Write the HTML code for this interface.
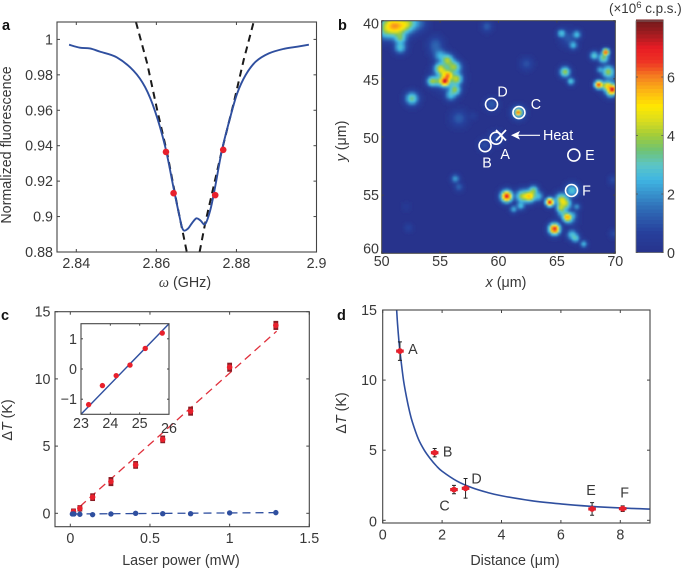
<!DOCTYPE html>
<html lang="en">
<head>
<meta charset="utf-8">
<title>Temperature mapping figure</title>
<style>
html,body{margin:0;padding:0;background:#fff;width:685px;height:568px;overflow:hidden}
svg{position:absolute;left:0;top:0;display:block}
text{font-family:"Liberation Sans",sans-serif;font-size:14.3px;fill:#383838}
.panel{font-weight:bold;font-size:14.500px;fill:#111}
.i{font-style:italic}
.w{fill:#fff}
</style>
</head>
<body>
<svg id="fig" width="685" height="568" viewBox="0 0 685 568" xmlns="http://www.w3.org/2000/svg">
  <defs>
    <filter id="soft" x="0" y="0" width="100%" height="100%"><feGaussianBlur stdDeviation="0.8"/></filter>
    <clipPath id="clip-a"><rect x="57" y="22" width="260" height="230"/></clipPath>
    <clipPath id="clip-b"><rect x="382" y="21" width="233.500" height="232.500"/></clipPath>
    <clipPath id="clip-d"><rect x="382.700" y="310" width="267.300" height="213"/></clipPath>
  </defs>
  <text class="panel" x="2" y="30">a</text>
  <text class="panel" x="338" y="30">b</text>
  <text class="panel" x="1" y="320">c</text>
  <text class="panel" x="337" y="320">d</text>

  <text transform="translate(11,145) rotate(-90)" text-anchor="middle">Normalized fluorescence</text>
  <text x="185" y="287" text-anchor="middle"><tspan class="i" style="font-family:'Liberation Serif',serif">ω</tspan> (GHz)</text>

  <text transform="translate(346,141) rotate(-90)" text-anchor="middle"><tspan class="i">y</tspan> (μm)</text>
  <text x="506" y="287" text-anchor="middle"><tspan class="i">x</tspan> (μm)</text>
  <text x="609" y="13" style="font-size:13.4px">(×10<tspan dy="-5" font-size="9.500">6</tspan><tspan dy="5"> c.p.s.)</tspan></text>

  <text transform="translate(12,420) rotate(-90)" text-anchor="middle">Δ<tspan class="i">T</tspan> (K)</text>
  <text x="181" y="565" text-anchor="middle">Laser power (mW)</text>

  <text transform="translate(346,413) rotate(-90)" text-anchor="middle">Δ<tspan class="i">T</tspan> (K)</text>
  <text x="515" y="565" text-anchor="middle">Distance (μm)</text>

  <text x="87" y="344">Δ<tspan class="i">T</tspan> (K)</text>
  <text x="122" y="404"><tspan class="i">T</tspan> (ºC)</text>

  <g id="layer-b"></g>
  <g id="layer-a"></g>
  <g id="layer-c"></g>
  <g id="layer-d"></g>
</svg>
<script>
/* ---------- Panel a data ---------- */
var spectrumX = [2.8382,2.8409,2.8434,2.8459,2.8501,2.8543,2.8572,2.8597,2.8622,2.8643,2.8656,2.8666,2.8678,2.8689,2.87,2.871,2.8722,2.8735,2.8747,2.8764,2.8785,2.8802,2.8823,2.8848,2.8881,2.8919,2.8952,2.8981];
var spectrumY = [0.997,0.9953,0.9949,0.9931,0.9899,0.9823,0.973,0.9593,0.9395,0.9161,0.902,0.8928,0.893,0.8963,0.899,0.8978,0.8958,0.9039,0.917,0.9377,0.9564,0.9696,0.9799,0.9874,0.9921,0.9947,0.9959,0.997];
var fitLeftX = [2.8549,2.8577,2.8602,2.8627,2.8651,2.8668,2.8676];
var fitLeftY = [1.0098,0.9865,0.9602,0.9358,0.9076,0.8889,0.88];
var fitRightX = [2.8708,2.8722,2.8743,2.8764,2.8793,2.8818,2.8843];
var fitRightY = [0.88,0.8963,0.917,0.9377,0.9639,0.9883,1.0098];
var probeX = [2.8624,2.8643,2.8747,2.8767];
var probeY = [0.9365,0.9132,0.9121,0.9377];
var aXTicks = [2.84,2.86,2.88,2.9];
var aYTicks = [0.88,0.9,0.92,0.94,0.96,0.98,1];

/* ---------- Panel b data: fluorescent spots ---------- */
var spotX = [50.7,51.4,52.3,51.6,51.6,50.3,53.1,54.6,54.6,55.4,55.7,55,55.6,56.3,56.4,54.3,56.3,55.9,55,54.8,55.3,56,52.6,56.6,57.8,59,62.4,65.4,66.7,66.4,66,69.2,69,68.2,65.7,66.2,68.7,69.4,68.6,69.3,69.8,69.6,69.8,61.7,61.7,59.4,59.8,58.8,56.3,56.6,52.1,52.3,69.8,69.9,66.3,60.7,62,62.7,63,63.4,61.3,61.9,64.4,65.4,65.8,65.3,65.9,65.5,66.7,66.4,64.8,66.3,66.6,67.3,55.6,51.1,51.9,62.4,65.6,66.1,69.5,56.2];
var spotY = [40.4,40.5,40.2,41.5,42.3,40.9,40.2,42,42.5,45.2,44.7,44.1,43.4,44,45,45.2,46,46.4,43,45.2,44.5,43.9,46.7,48.4,48.2,40.5,43.7,41.1,41.2,42.1,41.5,42.7,43.2,43,44.4,45.2,44.2,44.4,45.5,45.6,45.9,46.2,45,47.9,47.9,47.2,50.1,50.7,53.6,54.3,56,57.8,53.7,58.3,54.6,55.1,55.1,55.1,54.6,55.1,56.2,55.9,55.6,55.4,55.7,56.1,56.9,56.5,56,56.7,57.9,58.4,58.7,59.2,44.8,40.5,40.4,55.1,55.9,57,45.8,45.8];
var spotPeak = [4.1,3.8,3.4,3.3,2.8,2.4,1.5,1.2,1,6.8,5,4.2,4,3,4,3.8,3,2.6,2.4,3,3.2,2.8,3.4,1.2,0.5,1.2,1,2.8,2.6,2.5,1.1,6.6,3.6,3,4,2.8,2.2,3.9,6.6,4.6,6.6,3.4,1.4,5.8,3.4,1.2,1,0.9,2.1,1.3,0.35,0.7,0.9,0.9,2.9,7,3.6,4.8,3.6,2.6,2.3,2.6,7,4.4,3.2,3.6,5.4,2.6,2,1.7,7,2.7,2.9,2.5,3,3,2.8,3,2.6,2.2,2.5,2.5];
var spotWidth = [0.55,0.5,0.45,0.3,0.28,0.38,0.4,0.36,0.34,0.24,0.22,0.28,0.3,0.3,0.28,0.24,0.26,0.26,0.3,0.26,0.26,0.32,0.3,0.38,0.2,0.25,0.3,0.2,0.2,0.2,0.38,0.16,0.25,0.2,0.24,0.18,0.17,0.3,0.2,0.24,0.24,0.22,0.22,0.14,0.28,0.3,0.34,0.3,0.2,0.2,0.22,0.2,0.22,0.22,0.3,0.27,0.3,0.27,0.22,0.24,0.18,0.2,0.2,0.3,0.26,0.2,0.22,0.26,0.17,0.2,0.26,0.24,0.2,0.17,0.55,0.45,0.4,0.32,0.32,0.3,0.33,0.3];
var markerNames = ["A","B","C","D","E","F"];
var markerX = [59.8,58.85,61.75,59.4,66.45,66.25];
var markerY = [50.1,50.75,47.9,47.2,51.55,54.6];
var colorStops = [0,0.7,1.5,2.5,3,3.5,4,4.5,5,5.5,6,6.5,7,7.5,8];
var colorHex = ["#27338c","#27409c","#2f6cb6","#3fb6e2","#5cc5c6","#6fc374","#a0cc3a","#d8dc20","#ffe800","#fdb913","#f58220","#ee3524","#e81c24","#a01c20","#6b1a1a"];
var cbTicks = [0,2,4,6];
var bXTicks = [50,55,60,65,70];
var bYTicks = [40,45,50,55,60];

/* ---------- Panel c data ---------- */
var powerRed = [0.02,0.06,0.14,0.255,0.41,0.58,0.755,1,1.29];
var deltaRed = [0.12,0.37,1.2,2.36,3.6,5.5,7.6,10.87,13.98];
var errRed = [0.2,0.2,0.25,0.3,0.25,0.25,0.3,0.3,0.3];
var powerBlue = [0.013,0.023,0.06,0.14,0.255,0.41,0.58,0.755,1,1.29];
var deltaBlue = [-0.05,-0.05,-0.07,-0.1,-0.05,0,-0.03,-0.03,0.03,0.05];
var redFitX = [0.06,1.295];
var redFitY = [0.5,13.55];
var blueFitX = [0.02,1.29];
var blueFitY = [-0.05,0.05];
var cXTicks = [0,0.5,1,1.5];
var cXLabels = ["0","0.5","1","1.5"];
var cYTicks = [0,5,10,15];
var insetT = [23.26,23.73,24.2,24.67,25.19,25.77];
var insetDelta = [-1.18,-0.55,-0.22,0.13,0.68,1.19];
var insetFitX = [23,26];
var insetFitY = [-1.5,1.5];
var insetXTicks = [23,24,25,26];
var insetYTicks = [-1,0,1];

/* ---------- Panel d data ---------- */
var siteNames = ["A","B","C","D","E","F"];
var siteDist = [0.58,1.75,2.4,2.79,7.05,8.08];
var siteDelta = [12.07,4.82,2.19,2.28,0.81,0.83];
var siteErr = [0.66,0.3,0.3,0.7,0.45,0.2];
var curveX = [0.47,0.5,0.55,0.6,0.7,0.8,0.9,1,1.2,1.4,1.6,1.8,2,2.5,3,3.5,4,5,6,7,8,9];
var curveY = [15,14,12.7,11.7,10,8.8,7.8,7,5.8,5,4.4,3.9,3.5,2.8,2.33,2,1.75,1.4,1.17,1,0.88,0.8];
var dXTicks = [0,2,4,6,8];
var dYTicks = [0,5,10,15];

/* ---------- Helpers ---------- */
var NS = "http://www.w3.org/2000/svg";
function svgEl(tag, parent, props) {
  var el = document.createElementNS(NS, tag);
  for (var k in props) el.setAttribute(k, props[k]);
  parent.appendChild(el);
  return el;
}
function linear(d0, d1, p0, p1) {
  return function (v) { return p0 + (v - d0) * (p1 - p0) / (d1 - d0); };
}
function pathOf(xs, ys, sx, sy) {
  var pts = [];
  for (var i = 0; i < xs.length; i++) pts.push(sx(xs[i]).toFixed(2) + "," + sy(ys[i]).toFixed(2));
  return pts.join(" ");
}
function smoothPath(xs, ys, sx, sy) {
  var P = [];
  for (var i = 0; i < xs.length; i++) P.push([sx(xs[i]), sy(ys[i])]);
  var d = "M" + P[0][0].toFixed(2) + " " + P[0][1].toFixed(2);
  for (var j = 0; j < P.length - 1; j++) {
    var p0 = P[Math.max(j - 1, 0)], p1 = P[j], p2 = P[j + 1], p3 = P[Math.min(j + 2, P.length - 1)];
    d += "C" + (p1[0] + (p2[0] - p0[0]) / 6).toFixed(2) + " " + (p1[1] + (p2[1] - p0[1]) / 6).toFixed(2) + " " +
         (p2[0] - (p3[0] - p1[0]) / 6).toFixed(2) + " " + (p2[1] - (p3[1] - p1[1]) / 6).toFixed(2) + " " +
         p2[0].toFixed(2) + " " + p2[1].toFixed(2);
  }
  return d;
}
function frame(g, prefix, x0, y0, x1, y1, sw) {
  var el = svgEl("rect", g, {x: x0, y: y0, width: x1 - x0, height: y1 - y0, fill: "none", stroke: "#444", "stroke-width": sw});
  
  
}
function xAxis(g, prefix, ticks, labels, sx, y0, y1, baseline, len, labelY) {
  ticks.forEach(function (t, i) {
    var px = sx(t);
    var a = svgEl("line", g, {x1: px, x2: px, y1: y1, y2: y1 - len, stroke: "#444", "stroke-width": 1});
    
    
    var b = svgEl("line", g, {x1: px, x2: px, y1: y0, y2: y0 + len, stroke: "#444", "stroke-width": 1});
    
    
    var tx = svgEl("text", g, {x: px, y: labelY ? labelY[i] : baseline, "text-anchor": "middle"});
    tx.textContent = labels[i];
    
    
  });
}
function yAxis(g, prefix, ticks, labels, sy, x0, x1, right, len, nudge) {
  ticks.forEach(function (t, i) {
    var py = sy(t);
    var a = svgEl("line", g, {x1: x0, x2: x0 + len, y1: py, y2: py, stroke: "#444", "stroke-width": 1});
    
    
    var b = svgEl("line", g, {x1: x1, x2: x1 - len, y1: py, y2: py, stroke: "#444", "stroke-width": 1});
    
    
    var tx = svgEl("text", g, {x: right, y: py + 5 + (nudge ? nudge[i] : 0), "text-anchor": "end"});
    tx.textContent = labels[i];
    
    
  });
}
function jet(v) {
  if (v <= colorStops[0]) return colorHex[0];
  for (var i = 1; i < colorStops.length; i++) {
    if (v <= colorStops[i]) {
      var f = (v - colorStops[i - 1]) / (colorStops[i] - colorStops[i - 1]);
      var a = parseInt(colorHex[i - 1].slice(1), 16), b = parseInt(colorHex[i].slice(1), 16);
      var r = Math.round((a >> 16) + ((b >> 16) - (a >> 16)) * f);
      var g = Math.round(((a >> 8) & 255) + (((b >> 8) & 255) - ((a >> 8) & 255)) * f);
      var c = Math.round((a & 255) + ((b & 255) - (a & 255)) * f);
      return "rgb(" + r + "," + g + "," + c + ")";
    }
  }
  return colorHex[colorHex.length - 1];
}

/* ---------- Panel a ---------- */
(function () {
  var g = document.getElementById("layer-a");
  var sx = linear(2.84, 2.9, 76.3, 316.5);
  var sy = linear(1, 0.88, 39.4, 252);
  var clip = svgEl("g", g, {"clip-path": "url(#clip-a)"});
  var fitL = svgEl("polyline", clip, {points: pathOf(fitLeftX, fitLeftY, sx, sy), fill: "none", stroke: "#1a1a1a", "stroke-width": 2, "stroke-dasharray": "7 5"});
  
  
  var fitR = svgEl("polyline", clip, {points: pathOf(fitRightX, fitRightY, sx, sy), fill: "none", stroke: "#1a1a1a", "stroke-width": 2, "stroke-dasharray": "7 5"});
  
  
  var line = svgEl("path", clip, {d: smoothPath(spectrumX, spectrumY, sx, sy), fill: "none", stroke: "#2f4f9f", "stroke-width": 1.9, "stroke-linejoin": "round"});
  
  
  probeX.forEach(function (x, i) {
    var p = svgEl("circle", g, {cx: sx(x), cy: sy(probeY[i]), r: 3.3, fill: "#e8202c"});
    
    
  });
  frame(g, "a", 57, 22, 316.5, 252, 1.1);
  xAxis(g, "a", aXTicks, ["2.84", "2.86", "2.88", "2.9"], sx, 22, 252, 268, 3);
  yAxis(g, "a", aYTicks, ["0.88", "0.9", "0.92", "0.94", "0.96", "0.98", "1"], sy, 57, 316.5, 53, 3);
})();

/* ---------- Panel b ---------- */
(function () {
  var g = document.getElementById("layer-b");
  var sx = linear(50, 70, 381.7, 615.3);
  var sy = linear(40, 60, 20.7, 253.3);
  var bg = svgEl("rect", g, {x: 381.7, y: 20.7, width: 233.6, height: 232.6, fill: colorHex[0]});
  
  
  var cells = svgEl("g", g, {"clip-path": "url(#clip-b)"});
  var inner = svgEl("g", cells, {filter: "url(#soft)", "shape-rendering": "crispEdges"});
  var step = 0.15;
  var spread = 1.35;
  for (var ix = 0; ix < 134; ix++) {
    for (var iy = 0; iy < 134; iy++) {
      var mx = 50 + ix * step, my = 40 + iy * step, v2 = 0;
      for (var s = 0; s < spotX.length; s++) {
        var dx = mx + step / 2 - spotX[s], dy = my + step / 2 - spotY[s], w = spotWidth[s] * spread;
        var d2 = (dx * dx + dy * dy) / (2 * w * w);
        if (d2 < 12) {
          var contrib = spotPeak[s] * Math.exp(-d2);
          v2 += contrib * contrib;
        }
      }
      var v = Math.sqrt(v2);
      if (v < 0.08) continue;
      var cell = svgEl("rect", inner, {x: sx(mx).toFixed(2), y: sy(my).toFixed(2), width: 2.1, height: 2.1, fill: jet(v)});
      
      
    }
  }
  frame(g, "b", 381.7, 20.7, 615.3, 253.3, 1);
  var bx = svgEl("g", g, {});
  xAxis(bx, "b", bXTicks, ["50", "55", "60", "65", "70"], sx, 20.7, 253.3, 266, 2);
  yAxis(bx, "b", bYTicks, ["40", "45", "50", "55", "60"], sy, 381.7, 615.3, 379, 2, [3, 1, 1, 0, -5]);

  markerX.forEach(function (x, i) {
    var c = svgEl("circle", g, {cx: sx(x), cy: sy(markerY[i]), r: 6, fill: "none", stroke: "#fff", "stroke-width": 1.6});
    
    
  });
  var labelOffX = [9, 2, 17, 11, 16, 15];
  var labelOffY = [16, 17, -8.5, -13, 0, 0];
  markerNames.forEach(function (n, i) {
    var t = svgEl("text", g, {"class": "w", "text-anchor": "middle", x: sx(markerX[i]) + labelOffX[i], y: sy(markerY[i]) + labelOffY[i] + 5});
    t.textContent = n;
    
    
  });
  var heat = svgEl("g", g, {stroke: "#fff", "stroke-width": 1.8, fill: "none"});
  
  
  svgEl("line", heat, {x1: 496, y1: 130, x2: 506, y2: 140.5});
  svgEl("line", heat, {x1: 506, y1: 130, x2: 496, y2: 140.5});
  svgEl("line", heat, {x1: 514, y1: 135.3, x2: 540, y2: 135.3, "stroke-width": 1.2});
  var arrow = svgEl("polygon", g, {points: "511,135.3 520,131 518,135.3 520,139.6", fill: "#fff"});
  
  
  var ht = svgEl("text", g, {"class": "w", x: 543, y: 140});
  ht.textContent = "Heat";
  
  

  /* colour bar */
  var cy = linear(0, 2, 252.5, 194);
  for (var k = 0; k < 64; k++) {
    var lo = k * 7.96 / 64, hi = (k + 1) * 7.96 / 64;
    var seg = svgEl("rect", g, {x: 636, y: cy(hi).toFixed(2), width: 27.3, height: (cy(lo) - cy(hi) + 0.4).toFixed(2), fill: jet((lo + hi) / 2), "shape-rendering": "crispEdges"});
    
    
  }
  var cb = svgEl("rect", g, {x: 636, y: 21, width: 27.3, height: 231.5, fill: "none", stroke: "#777", "stroke-width": 0.8});
  
  
  cbTicks.forEach(function (t) {
    var p = cy(t);
    var a = svgEl("line", g, {x1: 636, x2: 638, y1: p, y2: p, stroke: "#555", "stroke-width": 0.8});
    
    
    var b = svgEl("line", g, {x1: 663.3, x2: 661.3, y1: p, y2: p, stroke: "#555", "stroke-width": 0.8});
    
    
    var l = svgEl("text", g, {x: 667, y: p + 5.5});
    l.textContent = String(t);
    
    
  });
})();

/* ---------- Panel c ---------- */
(function () {
  var g = document.getElementById("layer-c");
  var sx = linear(0, 1.5, 70.3, 309.3);
  var sy = linear(0, 15, 513.3, 311.7);
  var rf = svgEl("line", g, {x1: sx(redFitX[0]), y1: sy(redFitY[0]), x2: sx(redFitX[1]), y2: sy(redFitY[1]), stroke: "#e0303c", "stroke-width": 1.3, "stroke-dasharray": "8 5"});
  
  
  var bf = svgEl("line", g, {x1: sx(blueFitX[0]), y1: sy(blueFitY[0]), x2: sx(blueFitX[1]), y2: sy(blueFitY[1]), stroke: "#2f4f9f", "stroke-width": 1.3, "stroke-dasharray": "8 5"});
  
  
  powerRed.forEach(function (x, i) {
    var e = svgEl("rect", g, {x: sx(x) - 2.4, y: sy(deltaRed[i] + errRed[i]) - 0.5, width: 4.8, height: sy(deltaRed[i] - errRed[i]) - sy(deltaRed[i] + errRed[i]) + 1, fill: "#8a1c24"});
    
    
    var p = svgEl("circle", g, {cx: sx(x), cy: sy(deltaRed[i]), r: 2.8, fill: "#e8202c"});
    
    
  });
  powerBlue.forEach(function (x, i) {
    var p = svgEl("circle", g, {cx: sx(x), cy: sy(deltaBlue[i]), r: 2.7, fill: "#2f4f9f"});
    
    
  });
  frame(g, "c", 55, 311.7, 309.3, 526.7, 1.1);
  xAxis(g, "c", cXTicks, cXLabels, sx, 311.7, 526.7, 543, 3);
  yAxis(g, "c", cYTicks, ["0", "5", "10", "15"], sy, 55, 309.3, 50.5, 3);

  /* inset */
  var ix = linear(23, 26, 81, 169);
  var iy = linear(1.5, -1.5, 323.7, 414.3);
  var ig = svgEl("g", g, {});
  
  
  var fill = svgEl("rect", ig, {x: 81, y: 323.7, width: 88, height: 90.6, fill: "#fff"});
  
  
  var l = svgEl("line", ig, {x1: ix(insetFitX[0]), y1: iy(insetFitY[0]), x2: ix(insetFitX[1]), y2: iy(insetFitY[1]), stroke: "#2f4f9f", "stroke-width": 1.4});
  
  
  insetT.forEach(function (x, i) {
    var p = svgEl("circle", ig, {cx: ix(x), cy: iy(insetDelta[i]), r: 2.7, fill: "#e8202c"});
    
    
  });
  frame(ig, "inset", 81, 323.7, 169, 414.3, 1.1);
  xAxis(ig, "inset", insetXTicks, ["23", "24", "25", "26"], ix, 323.7, 414.3, 428, 2, [428, 428, 428, 433]);
  yAxis(ig, "inset", insetYTicks, ["−1", "0", "1"], iy, 81, 169, 77, 2);
})();

/* ---------- Panel d ---------- */
(function () {
  var g = document.getElementById("layer-d");
  var sx = linear(0, 9, 382.7, 650);
  var sy = linear(0, 15, 520.3, 310);
  var clip = svgEl("g", g, {"clip-path": "url(#clip-d)"});
  var c = svgEl("path", clip, {d: smoothPath(curveX, curveY, sx, sy), fill: "none", stroke: "#2f4f9f", "stroke-width": 1.6, "stroke-linejoin": "round"});
  
  
  siteDist.forEach(function (x, i) {
    var px = sx(x), py = sy(siteDelta[i]), top = sy(siteDelta[i] + siteErr[i]), bot = sy(siteDelta[i] - siteErr[i]);
    var e = svgEl("path", g, {d: "M" + (px - 2) + " " + top + "H" + (px + 2) + "M" + px + " " + top + "V" + bot + "M" + (px - 2) + " " + bot + "H" + (px + 2), fill: "none", stroke: "#222", "stroke-width": 1});
    
    
    var hb = svgEl("rect", g, {x: px - 3.8, y: py - 1.6, width: 7.6, height: 3.2, fill: "#d81e2a"});
    
    
    var p = svgEl("circle", g, {cx: px, cy: py, r: 2.9, fill: "#e8202c"});
    
    
  });
  var offX = [13, 13, -9.5, 11, -1, 2];
  var offY = [0, 1, 18, -8, -13, -10];
  siteNames.forEach(function (n, i) {
    var t = svgEl("text", g, {x: sx(siteDist[i]) + offX[i], y: sy(siteDelta[i]) + offY[i] + (i === 4 || i === 5 ? -1 : 3), "text-anchor": "middle"});
    t.textContent = n;
    
    
  });
  frame(g, "d", 382.7, 310, 650, 523, 1.1);
  xAxis(g, "d", dXTicks, ["0", "2", "4", "6", "8"], sx, 310, 523, 539.5, 3);
  yAxis(g, "d", dYTicks, ["0", "5", "10", "15"], sy, 382.7, 650, 377, 3, [1, 0, 0, 0]);
})();
</script>
</body>
</html>
